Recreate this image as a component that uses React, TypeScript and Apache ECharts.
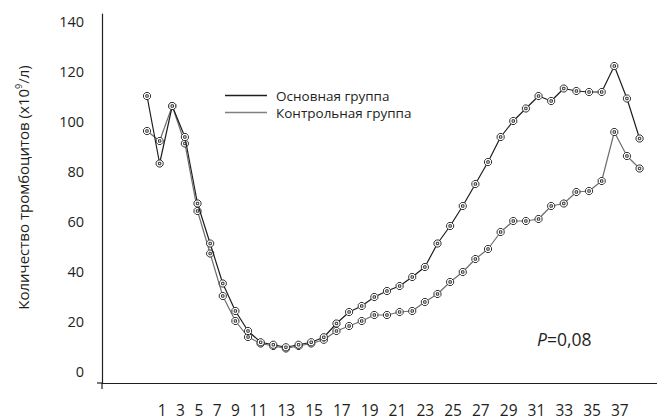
import React, { useEffect, useRef } from "react";
import * as echarts from "echarts";

const seriesNames = ["Основная группа", "Контрольная группа"];
const mainGroup = [
  110, 83, 106, 93.6, 67, 51, 35, 24, 16, 11.5,
  10.5, 9.5, 10.5, 11.5, 13.5, 19, 23.6, 26, 29.6, 32,
  34, 37.6, 41.6, 51, 58, 66, 74.8, 83.6, 93.6, 100,
  105, 110, 108, 113, 112, 111.6, 111.6, 122, 109, 93,
];
const controlGroup = [
  96, 92, 106, 91, 64, 47, 30, 20, 13.6, 11,
  10, 9, 10, 11, 12.5, 16, 18, 20, 22.4, 22.4,
  23.6, 24, 27.6, 30.8, 35.6, 39.6, 44.8, 48.8, 55.6, 60,
  60, 60.8, 66, 67, 71.6, 72, 76, 95.6, 86, 81,
];
const xTickLabels = [
  "1", "3", "5", "7", "9", "11", "13", "15", "17", "19",
  "21", "23", "25", "27", "29", "31", "33", "35", "37",
];
const yTickValues = [0, 20, 40, 60, 80, 100, 120, 140];
const yAxisTitle = "Количество тромбоцитов (x10{sup|9}/л)";
const pValueText = "{i|P}=0,08";

const FONT = "Open Sans";
const INK = "#231f20";
const MARKER =
  "path://M3,0 L7,0 L10,3 L10,7 L7,10 L3,10 L0,7 L0,3 Z M3.3,3.3 L6.7,3.3 L6.7,6.7 L3.3,6.7 Z";

export default function App() {
  const ref = useRef<HTMLDivElement>(null);
  useEffect(() => {
    const chart = echarts.init(ref.current!, null, { renderer: "svg" });
    const colors = ["#1e1e1e", "#6e6e6e"];
    const legendColors = ["#1e1e1e", "#808080"];
    const lineSeries = [mainGroup, controlGroup].map((arr, k) => ({
      name: seriesNames[k],
      type: "line",
      data: arr.map((v, i) => [i, v]),
      symbol: MARKER,
      symbolSize: 7,
      showSymbol: true,
      lineStyle: { color: colors[k], width: 1.2 },
      itemStyle: { color: "#ffffff", borderColor: "#333", borderWidth: 1 },
      z: k === 0 ? 3 : 2,
    }));
    const tickText = xTickLabels
      .map((l) => `{${l.length > 1 ? "d" : "s"}|${l}}`)
      .join("");
    chart.setOption({
      animation: false,
      textStyle: { fontFamily: FONT, color: INK },
      grid: { left: 102, right: 0, top: 14, bottom: 37, containLabel: false },
      legend: {
        orient: "vertical",
        left: 225,
        top: 88,
        padding: 0,
        icon: "rect",
        itemWidth: 42,
        itemHeight: 1.6,
        itemGap: 2,
        data: seriesNames.map((n, k) => ({
          name: n,
          itemStyle: { color: legendColors[k], borderColor: legendColors[k], borderWidth: 0 },
        })),
        textStyle: { fontFamily: FONT, fontSize: 13.5, color: INK, lineHeight: 15, padding: [0, 0, 0, 4] },
      },
      xAxis: {
        type: "value",
        min: -3.563,
        max: 40.38,
        axisLine: { show: true, onZero: false, lineStyle: { color: INK, width: 1.2 } },
        axisTick: { show: false },
        axisLabel: { show: false },
        splitLine: { show: false },
      },
      yAxis: {
        type: "value",
        min: -4.8,
        max: 142.8,
        name: yAxisTitle,
        nameLocation: "middle",
        nameGap: 71,
        nameTextStyle: {
          fontFamily: FONT,
          fontSize: 15,
          color: INK,
          padding: [0, 0, 0, 22],
          rich: { sup: { fontSize: 9, verticalAlign: "top", padding: [0, 0, 8, 0], fontFamily: FONT, color: INK } },
        },
        axisLine: { show: true, onZero: false, lineStyle: { color: INK, width: 1.2 } },
        axisTick: { show: false },
        splitLine: { show: false },
        axisLabel: {
          customValues: yTickValues,
          fontFamily: FONT,
          fontSize: 14.5,
          color: INK,
          margin: 18,
        },
      },
      graphic: [
        { type: "line", shape: { x1: 97, y1: 383, x2: 102, y2: 383 }, style: { stroke: INK, lineWidth: 1.2 } },
        { type: "line", shape: { x1: 102, y1: 383, x2: 102, y2: 389 }, style: { stroke: INK, lineWidth: 1.2 } },
        {
          type: "text",
          left: 157.8,
          top: 402,
          style: {
            text: tickText,
            fill: INK,
            fontFamily: FONT,
            fontSize: 15.5,
            rich: {
              s: { width: 18.3, align: "center", fontFamily: FONT, fontSize: 15.5, fill: INK },
              d: { width: 27.8, align: "center", fontFamily: FONT, fontSize: 15.5, fill: INK },
            },
          },
        },
        {
          type: "text",
          left: 537,
          top: 330,
          style: {
            text: pValueText,
            fill: INK,
            fontFamily: FONT,
            fontSize: 17.5,
            rich: { i: { fontStyle: "italic", fontFamily: FONT, fontSize: 17.5, fill: INK } },
          },
        },
      ],
      series: lineSeries,
    });
    return () => chart.dispose();
  }, []);
  return (
    <div
      ref={ref}
      style={{ position: "absolute", left: 0, top: 0, width: 657, height: 420, background: "#fff" }}
    />
  );
}
